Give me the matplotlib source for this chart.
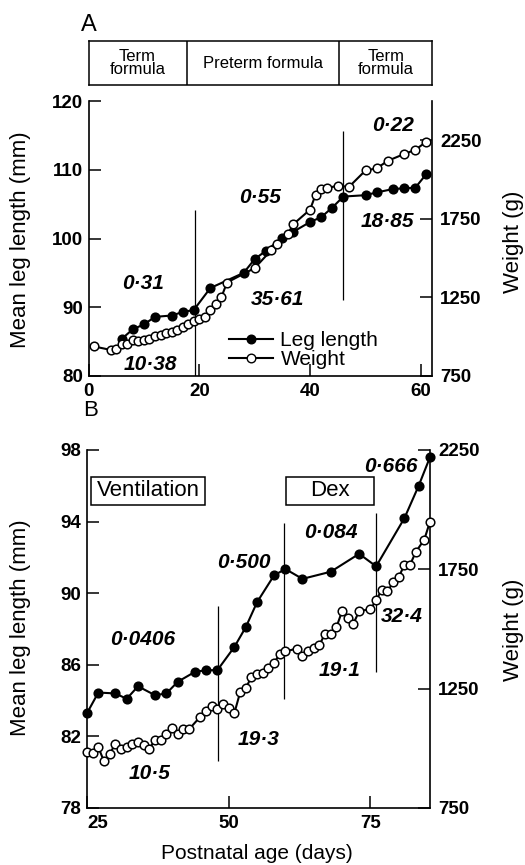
import matplotlib
matplotlib.use("Agg")
import matplotlib.pyplot as plt
from matplotlib.lines import Line2D
from matplotlib.patches import Rectangle

plt.rcParams['font.family'] = ['Liberation Sans', 'DejaVu Sans']

# ---- panel A data ----
a_leg_day = [6, 8, 10, 12, 15, 17, 19, 22, 28, 30, 32, 35, 37, 40, 42, 44, 46, 50, 52, 55, 57, 59, 61]
a_leg_mm = [85.4, 86.8, 87.5, 88.6, 88.8, 89.3, 89.6, 92.8, 95.0, 97.0, 98.2, 100.1, 101.0, 102.4,
            103.1, 104.5, 106.1, 106.3, 106.7, 107.2, 107.3, 107.4, 109.4]
a_wt_day = [1, 4, 5, 6, 7, 8, 9, 10, 11, 12, 13, 14, 15, 16, 17, 18, 19, 20, 21, 22, 23, 24, 25,
            30, 33, 34, 36, 37, 40, 41, 42, 43, 45, 47, 50, 52, 54, 57, 59, 61]
a_wt_g = [938, 916, 925, 956, 956, 978, 973, 982, 986, 1004, 1012, 1026, 1030, 1043, 1061, 1082,
          1100, 1113, 1126, 1170, 1209, 1253, 1345, 1437, 1551, 1590, 1656, 1717, 1809, 1905,
          1940, 1944, 1962, 1953, 2058, 2071, 2119, 2163, 2189, 2242]
a_breaks = [(19.2, 80, 104.2), (45.9, 91.1, 115.6)]
a_rates = ["0·31", "10·38", "35·61", "0·55", "0·22", "18·85"]
a_rate_pos = [(9.9, 93.5), (11.1, 81.6), (34.1, 91.1), (31.0, 106.0), (54.9, 116.5), (54.0, 102.5)]
a_phases = ["Term\nformula", "Preterm formula", "Term\nformula"]
a_phase_edges = [0, 17.7, 45.3, 62]

# ---- panel B data ----
b_leg_day = [25, 27, 30, 32, 34, 37, 39, 41, 44, 46, 48, 51, 53, 55, 58, 60, 63, 68, 73, 76, 81, 83.5, 85.5]
b_leg_mm = [83.3, 84.45, 84.4, 84.1, 84.8, 84.3, 84.4, 85.05, 85.6, 85.7, 85.7, 87.0, 88.1, 89.5,
            91.0, 91.35, 90.8, 91.2, 92.2, 91.5, 94.2, 96.0, 97.6]
b_wt_day = [25, 26, 27, 28, 29, 30, 31, 32, 33, 34, 35, 36, 37, 38, 39, 40, 41, 42, 43, 45, 46, 47,
            48, 49, 50, 51, 52, 53, 54, 55, 56, 57, 58, 59, 60, 62, 63, 64, 65, 66, 67, 68, 69, 70,
            71, 72, 73, 75, 76, 77, 78, 79, 80, 81, 82, 83, 84.5, 85.5]
b_wt_g = [983, 979, 1005, 945, 975, 1020, 998, 1005, 1020, 1028, 1016, 998, 1035, 1035, 1058, 1084,
          1058, 1080, 1080, 1133, 1155, 1178, 1163, 1185, 1170, 1148, 1234, 1253, 1298, 1313, 1316,
          1335, 1358, 1395, 1406, 1418, 1388, 1406, 1421, 1433, 1481, 1478, 1508, 1575, 1545, 1523,
          1575, 1583, 1620, 1665, 1658, 1695, 1718, 1770, 1770, 1823, 1875, 1950]
b_breaks = [(48.1, 80.6, 89.3), (59.8, 84.1, 93.9), (75.9, 85.6, 94.5)]
b_rates = ["0·0406", "0·500", "0·084", "0·666", "19·3", "19·1", "32·4", "10·5"]
b_rate_pos = [(34.9, 87.4), (52.6, 91.7), (68.0, 93.4), (78.6, 97.1), (55.2, 81.8), (69.5, 85.7),
              (80.5, 88.7), (36.1, 79.9)]
b_boxes = ["Ventilation", "Dex"]
b_box_x = [(25.7, 45.9), (60.05, 75.6)]
b_box_y = (94.93, 96.5)

W, H = 525, 865
fig = plt.figure(figsize=(W / 100, H / 100), dpi=100)

def fx(px):
    return px / W

def fy(py):
    return 1 - py / H

tick_kw = dict(direction='in', length=8.5, width=1.1, labelsize=13.5)
line_kw = dict(color='black', lw=1.5, ms=6.2, mew=1.1, zorder=3)
num_font = dict(fontsize=15, fontweight='bold', fontstyle='italic', ha='center', va='center')
lab_size = 16

def style_axes(ax, ax2):
    for a in (ax, ax2):
        a.spines['top'].set_visible(False)
        for s in ('left', 'right', 'bottom'):
            a.spines[s].set_linewidth(1.2)
    ax.spines['right'].set_visible(False)
    ax2.spines['left'].set_visible(False)
    ax2.spines['bottom'].set_visible(False)
    ax.tick_params(axis='x', pad=5, **tick_kw)
    ax.tick_params(axis='y', pad=4, **tick_kw)
    ax2.tick_params(axis='y', pad=6, **tick_kw)
    for lab in ax.get_xticklabels() + ax.get_yticklabels() + ax2.get_yticklabels():
        lab.set_fontweight('bold')

# ---------------- panel A ----------------
axA = fig.add_axes([fx(88.5), fy(376), fx(432 - 88.5), (376 - 101) / H])
axA2 = axA.twinx()
axA.set_xlim(0, 62)
axA.set_ylim(80, 120)
axA2.set_ylim(750, 2500)
axA.set_xticks([0, 20, 40, 60])
axA.set_yticks([80, 90, 100, 110, 120])
axA2.set_yticks([750, 1250, 1750, 2250])

axA.plot(a_leg_day, a_leg_mm, marker='o', mfc='black', mec='black', **line_kw)
axA2.plot(a_wt_day, a_wt_g, marker='o', mfc='white', mec='black', **line_kw)
for x, y0, y1 in a_breaks:
    axA.vlines(x, y0, y1, color='black', lw=0.9)
for t, (x, y) in zip(a_rates, a_rate_pos):
    axA.text(x, y, t, **num_font)
style_axes(axA, axA2)
axA.set_ylabel("Mean leg length (mm)", fontsize=lab_size)
axA.yaxis.set_label_coords(-0.167, 0.495)
axA2.set_ylabel("Weight (g)", fontsize=lab_size)
axA2.yaxis.set_label_coords(1.207, 0.489)

handles = [Line2D([], [], color='black', lw=1.5, marker='o', ms=6.2, mfc='black', mec='black'),
           Line2D([], [], color='black', lw=1.5, marker='o', ms=6.2, mfc='white', mec='black')]
axA.legend(handles, ["Leg length", "Weight"], loc='upper left', bbox_to_anchor=(0.38, 0.2),
           frameon=False, fontsize=15, borderpad=0, labelspacing=0.0, handlelength=2.1,
           handletextpad=0.35)

# header boxes
axH = fig.add_axes([fx(88.5), fy(85), fx(432 - 88.5), 44 / H])
axH.set_xlim(0, 62)
axH.set_ylim(0, 1)
axH.set_xticks([])
axH.set_yticks([])
for s in axH.spines.values():
    s.set_linewidth(1.1)
for e in a_phase_edges[1:-1]:
    axH.axvline(e, color='black', lw=1.1)
for i, t in enumerate(a_phases):
    axH.text((a_phase_edges[i] + a_phase_edges[i + 1]) / 2, 0.5, t, ha='center', va='center',
             fontsize=12, linespacing=0.9)
fig.text(fx(81), fy(25), "A", fontsize=17, va='center', ha='left')

# ---------------- panel B ----------------
axB = fig.add_axes([fx(87), fy(808), fx(430 - 87), (808 - 450) / H])
axB2 = axB.twinx()
axB.set_xlim(25, 85.5)
axB.set_ylim(78, 98)
axB2.set_ylim(750, 2250)
axB.set_xticks([25, 50, 75])
axB.set_yticks([78, 82, 86, 90, 94, 98])
axB2.set_yticks([750, 1250, 1750, 2250])

axB.plot(b_leg_day, b_leg_mm, marker='o', mfc='black', mec='black', clip_on=False, **line_kw)
axB2.plot(b_wt_day, b_wt_g, marker='o', mfc='white', mec='black', clip_on=False, **line_kw)
for x, y0, y1 in b_breaks:
    axB.vlines(x, y0, y1, color='black', lw=0.9)
for t, (x, y) in zip(b_rates, b_rate_pos):
    axB.text(x, y, t, **num_font)
for t, (x0, x1) in zip(b_boxes, b_box_x):
    y0, y1 = b_box_y
    axB.add_patch(Rectangle((x0, y0), x1 - x0, y1 - y0, fill=False, ec='black', lw=1.1))
    axB.text((x0 + x1) / 2, (y0 + y1) / 2, t, ha='center', va='center', fontsize=16)
style_axes(axB, axB2)
axB.get_xticklabels()[0].set_ha('left')
axB.set_ylabel("Mean leg length (mm)", fontsize=lab_size)
axB.yaxis.set_label_coords(-0.163, 0.503)
axB2.set_ylabel("Weight (g)", fontsize=lab_size)
axB2.yaxis.set_label_coords(1.213, 0.497)
axB.set_xlabel("Postnatal age (days)", fontsize=15)
axB.xaxis.set_label_coords(0.496, -0.1)
fig.text(fx(83), fy(411), "B", fontsize=16, va='center', ha='left')

fig.savefig("out.png", dpi=100)
